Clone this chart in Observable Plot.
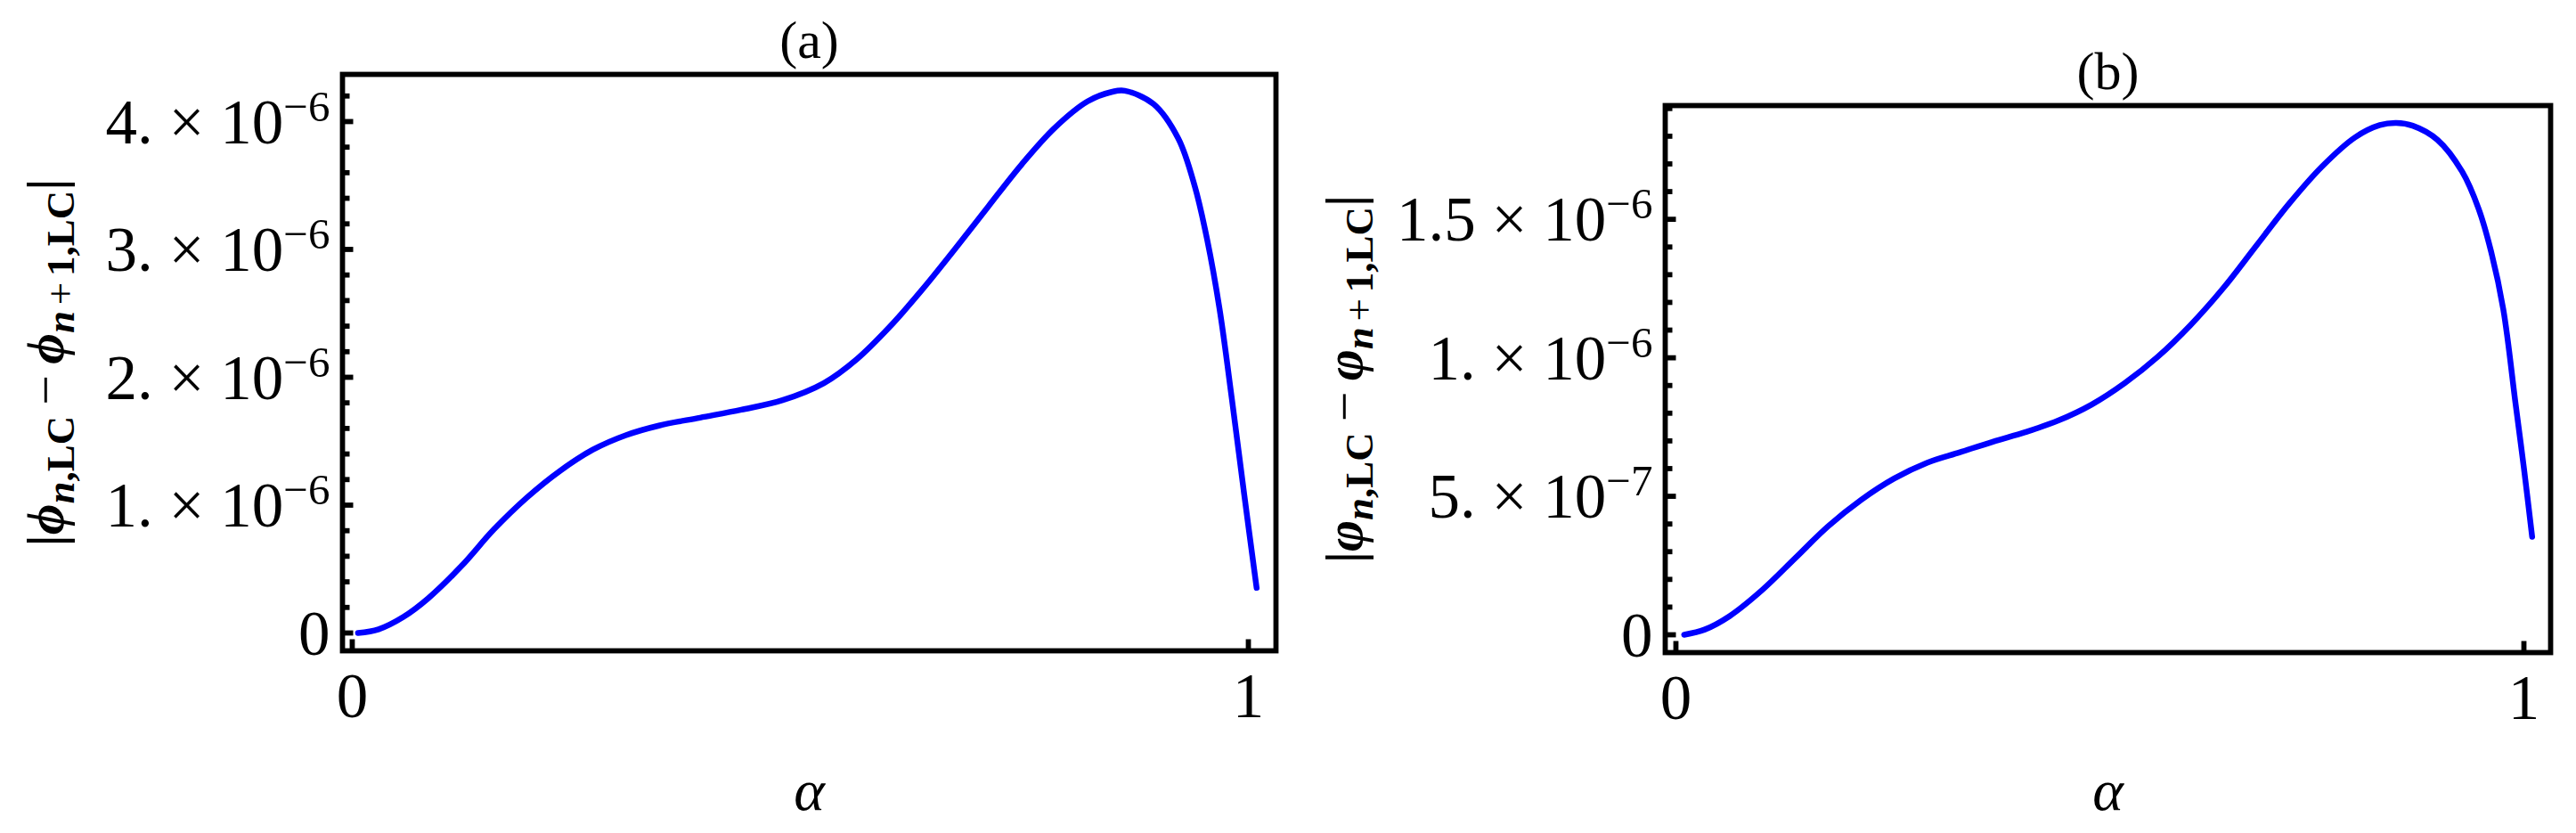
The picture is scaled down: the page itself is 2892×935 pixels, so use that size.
<!DOCTYPE html>
<html>
<head>
<meta charset="utf-8">
<script src="https://cdn.jsdelivr.net/npm/d3@7"></script>
<script src="https://cdn.jsdelivr.net/npm/@observablehq/plot@0.6"></script>
<style>
html, body { margin: 0; padding: 0; background: #ffffff; }
#wrap { position: relative; width: 2892px; height: 935px; overflow: hidden; background: #ffffff; }
#pa, #pb { position: absolute; top: 0; }
#pa { left: 0; }
#pb { left: 1446px; }
</style>
</head>
<body>
<div id="wrap"><div id="pa"></div><div id="pb"></div></div>
<script>
// ---------- Panel (a) data: |phi_n,LC - phi_n+1,LC| (values in units of 1e-6) ----------
const alphaA = [0.0064, 0.0294, 0.0570, 0.0846, 0.1214, 0.1582, 0.1950, 0.2318, 0.2686, 0.3054,
                0.3422, 0.3882, 0.4342, 0.4802, 0.5262, 0.5630, 0.5998, 0.6366, 0.6734, 0.7102,
                0.7470, 0.7838, 0.8206, 0.8482, 0.8620, 0.8942, 0.9218, 0.9402, 0.9540, 0.9678,
                0.9816, 0.9954, 1.0092];
const valueA = [0.000, 0.029, 0.125, 0.270, 0.520, 0.811, 1.060, 1.268, 1.434, 1.547,
                1.622, 1.684, 1.746, 1.821, 1.954, 2.141, 2.395, 2.690, 3.010, 3.340,
                3.665, 3.950, 4.158, 4.233, 4.241, 4.137, 3.867, 3.493, 3.077, 2.536,
                1.830, 1.081, 0.353];

// ---------- Panel (b) data: |varphi_n,LC - varphi_n+1,LC| (values in units of 1e-6) ----------
const alphaB = [0.0097, 0.0340, 0.0631, 0.1019, 0.1408, 0.1796, 0.2184, 0.2573, 0.2961, 0.3350,
                0.3738, 0.4126, 0.4515, 0.4903, 0.5291, 0.5680, 0.6068, 0.6456, 0.6845, 0.7233,
                0.7621, 0.8010, 0.8301, 0.8495, 0.8689, 0.8981, 0.9272, 0.9466, 0.9612, 0.9757,
                0.9903, 1.0000, 1.0097];
const valueB = [0.000, 0.019, 0.067, 0.162, 0.277, 0.392, 0.487, 0.564, 0.621, 0.659,
                0.697, 0.732, 0.774, 0.831, 0.908, 1.003, 1.118, 1.252, 1.405, 1.557,
                1.691, 1.796, 1.840, 1.848, 1.838, 1.787, 1.672, 1.538, 1.385, 1.175,
                0.831, 0.602, 0.354];

// ---------- Ticks and labels ----------
const xTicks = [0, 1];
const xTickLabels = ["0", "1"];

const yTicksA = [0, 1e-6, 2e-6, 3e-6, 4e-6];
const yTickLabelsA = ["0", "1. \u00d7 10^\u22126", "2. \u00d7 10^\u22126", "3. \u00d7 10^\u22126", "4. \u00d7 10^\u22126"];
const yMinorA = [0.2e-6, 0.4e-6, 0.6e-6, 0.8e-6, 1.2e-6, 1.4e-6, 1.6e-6, 1.8e-6, 2.2e-6, 2.4e-6,
                 2.6e-6, 2.8e-6, 3.2e-6, 3.4e-6, 3.6e-6, 3.8e-6, 4.2e-6];

const yTicksB = [0, 0.5e-6, 1e-6, 1.5e-6];
const yTickLabelsB = ["0", "5. \u00d7 10^\u22127", "1. \u00d7 10^\u22126", "1.5 \u00d7 10^\u22126"];
const yMinorB = [0.1e-6, 0.2e-6, 0.3e-6, 0.4e-6, 0.6e-6, 0.7e-6, 0.8e-6, 0.9e-6, 1.1e-6, 1.2e-6,
                 1.3e-6, 1.4e-6, 1.6e-6, 1.7e-6, 1.8e-6, 1.9e-6];

const titleA = "(a)";
const titleB = "(b)";
const xTitle = "\u03b1";
const yTitleA = "|\u03d5_{n,LC}\u2212\u03d5_{n+1,LC}|";
const yTitleB = "|\u03c6_{n,LC}\u2212\u03c6_{n+1,LC}|";

// ---------- helpers ----------
const FONT = "'Liberation Serif', 'Times New Roman', serif";

function plainTitle(src) { return src.replace(/_\{([^}]*)\}/g, "$1"); }

function panel(cfg) {
  const data = cfg.alpha.map((a, i) => ({alpha: a, value: cfg.values[i] * 1e-6}));
  const flatTitle = plainTitle(cfg.yTitle);
  const svg = Plot.plot({
    width: 1446,
    height: 935,
    marginLeft: cfg.ml, marginRight: cfg.mr, marginTop: cfg.mt, marginBottom: cfg.mb,
    style: {fontFamily: FONT, background: "#ffffff", color: "#000000"},
    x: {domain: cfg.xDomain},
    y: {domain: cfg.yDomain},
    marks: [
      Plot.line(data, {x: "alpha", y: "value", stroke: "#0000ff", strokeWidth: 6.5, curve: "catmull-rom"}),
      Plot.frame({stroke: "#000000", strokeWidth: 5.8}),
      Plot.axisY(cfg.yMajor, {tickSize: 12.5, dx: 12.5, strokeWidth: 5.8, tickFormat: () => "", label: null}),
      Plot.axisY(cfg.yMinor, {tickSize: 8.5, dx: 8.5, strokeWidth: 5.8, tickFormat: () => "", label: null}),
      Plot.axisY(cfg.yMajor, {tickSize: 0, tickPadding: 14, dy: 1.5, fontSize: 71,
        tickFormat: d => cfg.yLabels[cfg.yMajor.indexOf(d)], label: null}),
      Plot.axisX(xTicks, {tickSize: 12.5, dy: -12.5, strokeWidth: 5.8, tickFormat: () => "", label: null}),
      Plot.axisX(xTicks, {tickSize: 0, tickPadding: 24, fontSize: 71,
        tickFormat: d => xTickLabels[xTicks.indexOf(d)], label: null}),
      Plot.text([cfg.title], {frameAnchor: "top", lineAnchor: "bottom", dy: -18.6, fontSize: 60}),
      Plot.text([xTitle], {frameAnchor: "bottom", lineAnchor: "bottom", dy: cfg.alphaDy, fontSize: 66, fontStyle: "italic"}),
      Plot.text([flatTitle], {frameAnchor: "left", rotate: -90, textAnchor: "middle",
        lineAnchor: "bottom", dx: cfg.yTitleDx, fontSize: cfg.tMain})
    ]
  });

  const texts = Array.from(svg.querySelectorAll("text"));

  // superscripted exponents on the y tick labels
  for (const el of texts) {
    const t = el.textContent;
    if (!t.includes("^")) continue;
    const [base, exp] = t.split("^");
    const sel = d3.select(el);
    sel.text(null);
    sel.append("tspan").text(base);
    sel.append("tspan").attr("font-size", 49).attr("dy", -25).text(exp);
  }

  // subscripts in the y title
  const target = texts.find(el => el.textContent === flatTitle);
  if (target) {
    const tt = d3.select(target);
    tt.text(null);
    const src = cfg.yTitle;
    const segs = [];
    let i = 0;
    while (i < src.length) {
      if (src.startsWith("_{", i)) { const j = src.indexOf("}", i); segs.push([src.slice(i + 2, j), 1]); i = j + 1; }
      else { segs.push([src[i], 0]); i++; }
    }
    let level = 0;
    let pending = 0;
    const subSize = Math.round(cfg.tMain * 0.75), shift = Math.round(cfg.tMain * 0.2);
    for (const [s, lev] of segs) {
      for (const ch of s) {
        const size = lev ? subSize : cfg.tMain;
        const isOp = "\u2212+".includes(ch);
        const opSpace = isOp ? size * (lev ? 0.15 : 0.2) : 0;
        const ts = tt.append("tspan").text(ch).attr("font-size", size);
        if (lev !== level) { ts.attr("dy", lev ? shift : -shift); level = lev; }
        const dx = pending + opSpace;
        if (dx) ts.attr("dx", dx.toFixed(1));
        pending = opSpace;
        ts.attr("font-style", "\u03d5\u03c6n".includes(ch) ? "italic" : "normal");
        ts.attr("font-weight", isOp ? "normal" : "bold");
      }
    }
  }
  return svg;
}

document.getElementById("pa").appendChild(panel({
  alpha: alphaA, values: valueA,
  ml: 384, mr: 14, mt: 83, mb: 205,
  xDomain: [-0.0109, 1.0308], yDomain: [-0.1394e-6, 4.369e-6],
  yMajor: yTicksA, yMinor: yMinorA, yLabels: yTickLabelsA,
  title: titleA, yTitle: yTitleA, yTitleDx: -314, alphaDy: 178, tMain: 60
}));

document.getElementById("pb").appendChild(panel({
  alpha: alphaB, values: valueB,
  ml: 423, mr: 29, mt: 118, mb: 203,
  xDomain: [-0.0126, 1.0315], yDomain: [-0.0643e-6, 1.9106e-6],
  yMajor: yTicksB, yMinor: yMinorB, yLabels: yTickLabelsB,
  title: titleB, yTitle: yTitleB, yTitleDx: -341, alphaDy: 176, tMain: 60
}));
</script>
</body>
</html>
